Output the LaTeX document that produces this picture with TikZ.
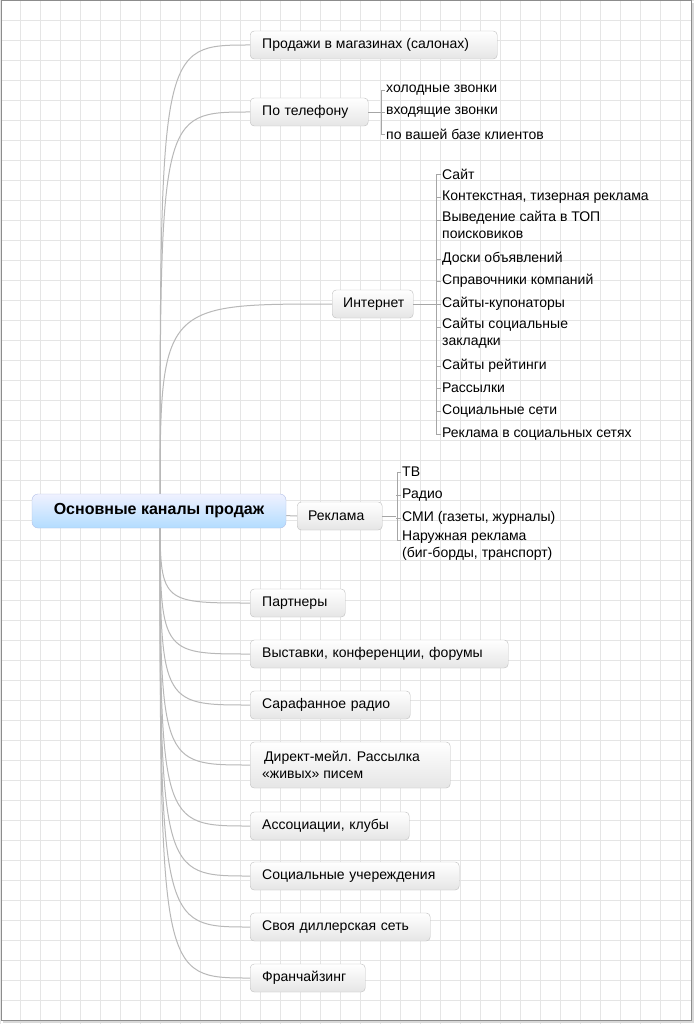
\documentclass[tikz,border=0pt]{standalone}
\usepackage{fontspec}
\setmainfont{Liberation Sans}
\begin{document}
\begin{tikzpicture}[x=1pt,y=-1pt,
  br/.style={draw=black!25,rounded corners=4pt,top color=white,bottom color=black!10,inner xsep=0pt,anchor=west,minimum height=28pt,font=\fontsize{14}{16}\selectfont},
  lf/.style={anchor=west,inner sep=1pt,font=\fontsize{14}{17}\selectfont,align=flush left},
  con/.style={draw=black!28,line width=1pt},
  brk/.style={draw=black!35,line width=0.7pt}]
\useasboundingbox (0,0) rectangle (694,1024);
\fill[white] (0,0) rectangle (694,1024);
\foreach \x in {0,20,...,680}{\draw[black!10,line width=0.5pt] (\x,0) -- (\x,1024);}
\foreach \y in {0,20,...,1020}{\draw[black!10,line width=0.5pt] (0,\y) -- (694,\y);}
\draw[black!45,line width=1pt] (1,1) rectangle (691,1020);
\draw[black!15,line width=2pt] (3,1022) -- (693,1022) -- (693,3);
\coordinate (rc) at (160,511);
% branches
\node[br,text width=247pt,align=flush left] (b1) at (250,45) {\hspace{12pt}Продажи в магазинах (салонах)};
\node[br,text width=118pt] (b2) at (250,112) {\hspace{12pt}По телефону};
\node[br,text width=81pt] (b3) at (332,304) {\hspace{11pt}Интернет};
\node[br,text width=200pt,minimum height=46pt,align=flush left,font=\fontsize{14}{17}\selectfont] (b8) at (250,765) {\hspace{14pt}Директ-мейл. Рассылка\\\hspace{12pt}«живых» писем};
\node[br,text width=95pt] (b5) at (250,603) {\hspace{12pt}Партнеры};
\node[br,text width=258pt] (b6) at (250,654) {\hspace{12pt}Выставки, конференции, форумы};
\node[br,text width=160pt] (b7) at (250,705) {\hspace{12pt}Сарафанное радио};
\node[br,text width=159pt] (b9) at (250,826) {\hspace{12pt}Ассоциации, клубы};
\node[br,text width=209pt] (b10) at (250,876) {\hspace{12pt}Социальные учереждения};
\node[br,text width=180pt] (b11) at (250,927) {\hspace{12pt}Своя диллерская сеть};
\node[br,text width=115pt] (b12) at (250,978) {\hspace{12pt}Франчайзинг};
\node[br,text width=85pt] (b4) at (297,516) {\hspace{11pt}Реклама};
\foreach \b in {b1,b2,b3,b5,b6,b7,b8,b9,b10,b11,b12}{
  \path[con] (rc) .. controls (rc|-\b.west) .. (\b.west);}
\path[con] (rc) -- (b4.west);
% root
\node[draw=cyan!40!blue!30,rounded corners=6pt,top color=cyan!12!blue!6,bottom color=cyan!55!blue!30,minimum width=254pt,minimum height=34pt,font=\fontsize{16}{18}\selectfont\bfseries] (root) at (159,511) {Основные каналы продаж};
% phone leaves
\node[lf] (p1) at (385,90) {холодные звонки};
\node[lf] (p2) at (385,112) {входящие звонки};
\node[lf] (p3) at (385,134) {по вашей базе клиентов};
\draw[brk] (b2.east) -- (p2.west);
\draw[brk] (p1.west) -- ++(-4,0) |- (p3.west);
% internet leaves
\node[lf] (i1) at (441,174) {Сайт};
\node[lf] (i2) at (441,197) {Контекстная, тизерная реклама};
\node[lf,anchor=north west] (i3) at (441,210) {Выведение сайта в ТОП\\поисковиков};
\node[lf] (i4) at (441,259) {Доски объявлений};
\node[lf] (i5) at (441,281) {Справочники компаний};
\node[lf] (i6) at (441,304) {Сайты-купонаторы};
\node[lf,anchor=north west] (i7) at (441,317) {Сайты социальные\\закладки};
\node[lf] (i8) at (441,366) {Сайты рейтинги};
\node[lf] (i9) at (441,388) {Рассылки};
\node[lf] (i10) at (441,411) {Социальные сети};
\node[lf] (i11) at (441,434) {Реклама в социальных сетях};
\coordinate (ib) at (436,174);
\draw[brk] (b3.east) -- (i6.west);
\draw[brk] (i1.west) -- (ib) |- (i11.west);
\foreach \y in {197,220,259,281,327,366,388,411}{\draw[brk] (436,\y) -- ++(5,0);}
% ad leaves
\node[lf] (r1) at (401,472) {ТВ};
\node[lf] (r2) at (401,495) {Радио};
\node[lf] (r3) at (401,518) {СМИ (газеты, журналы)};
\node[lf,anchor=north west] (r4) at (401,530) {Наружная реклама\\(биг-борды, транспорт)};
\draw[brk] (b4.east) -- (396,516);
\draw[brk] (r1.west) -- ++(-4,0) |- (401,540);
\draw[brk] (396,495) -- (r2.west);
\draw[brk] (396,518) -- (r3.west);
\end{tikzpicture}
\end{document}
